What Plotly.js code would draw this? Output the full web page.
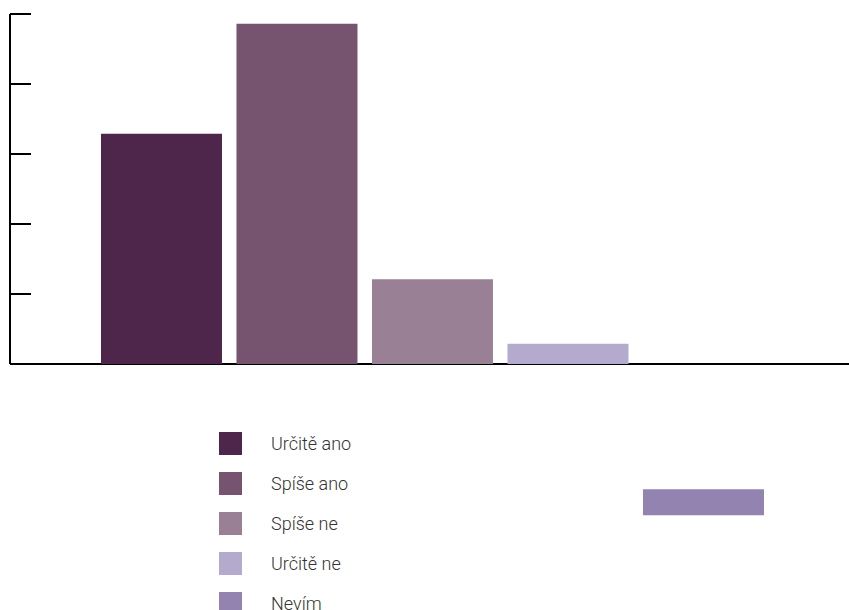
<!DOCTYPE html>
<html>
<head>
<meta charset="utf-8">
<script src="https://cdn.plot.ly/plotly-3.0.1.min.js"></script>
<style>html,body{margin:0;padding:0;background:#fff;}#chart{width:849px;height:610px;}</style>
</head>
<body>
<div id="chart"></div>
<script>
// Data
const categories = ["Určitě ano", "Spíše ano", "Spíše ne", "Určitě ne", "Nevím"];
const values = [32.9, 48.6, 12.1, 2.9, 3.7];
const bases = [0, 0, 0, 0, -21.6];
const colors = ["#4f264b", "#765470", "#9a8094", "#b4aacd", "#9283b1"];
const yTickVals = [0, 10, 20, 30, 40, 50];

// Layout geometry (pixels)
const W = 849, H = 610;
const M = {l: 10, r: 0, t: 10, b: 71};
const plotW = W - M.l - M.r, plotH = H - M.t - M.b;
const px2paperX = px => (px - M.l) / plotW;
const px2paperY = py => (H - M.b - py) / plotH;

const trace = {
  type: "bar",
  x: categories.map((c, i) => i),
  y: values,
  base: bases,
  marker: {color: colors, line: {width: 0}},
  width: 0.893,
  hoverinfo: "skip",
  showlegend: false
};

// Custom legend (squares + labels)
const shapes = [{
  type: "line", xref: "paper", yref: "y",
  x0: 0, x1: 0, y0: 0, y1: 50,
  line: {color: "#000", width: 2}
}];
const annotations = [];
const legX0 = 219, legSize = 23, legY0 = 432, legStep = 40, legTextX = 269;
categories.forEach((c, i) => {
  const top = legY0 + i * legStep;
  shapes.push({
    type: "rect", xref: "paper", yref: "paper",
    x0: px2paperX(legX0), x1: px2paperX(legX0 + legSize),
    y0: px2paperY(top + legSize), y1: px2paperY(top),
    fillcolor: colors[i], line: {width: 0}
  });
  annotations.push({
    xref: "paper", yref: "paper",
    x: px2paperX(legTextX), y: px2paperY(top + legSize / 2),
    xanchor: "left", yanchor: "middle",
    text: c, showarrow: false,
    font: {family: "Roboto", size: 18, color: "#333", weight: 300}
  });
});

const layout = {
  width: W, height: H,
  margin: M,
  paper_bgcolor: "#fff", plot_bgcolor: "#fff",
  font: {family: "Roboto", color: "#333"},
  showlegend: false,
  xaxis: {
    range: [-1.118, 5.074],
    showgrid: false, zeroline: false, showline: false,
    showticklabels: false, ticks: "", fixedrange: true
  },
  yaxis: {
    range: [-25, 50 + 4 / 7],
    showgrid: false, showline: false,
    zeroline: true, zerolinecolor: "#000", zerolinewidth: 2,
    tickvals: yTickVals, ticks: "inside", ticklen: 21, tickwidth: 2, tickcolor: "#000",
    showticklabels: false, fixedrange: true
  },
  shapes: shapes,
  annotations: annotations
};

Plotly.newPlot("chart", [trace], layout, {displayModeBar: false, staticPlot: true});
</script>
</body>
</html>
